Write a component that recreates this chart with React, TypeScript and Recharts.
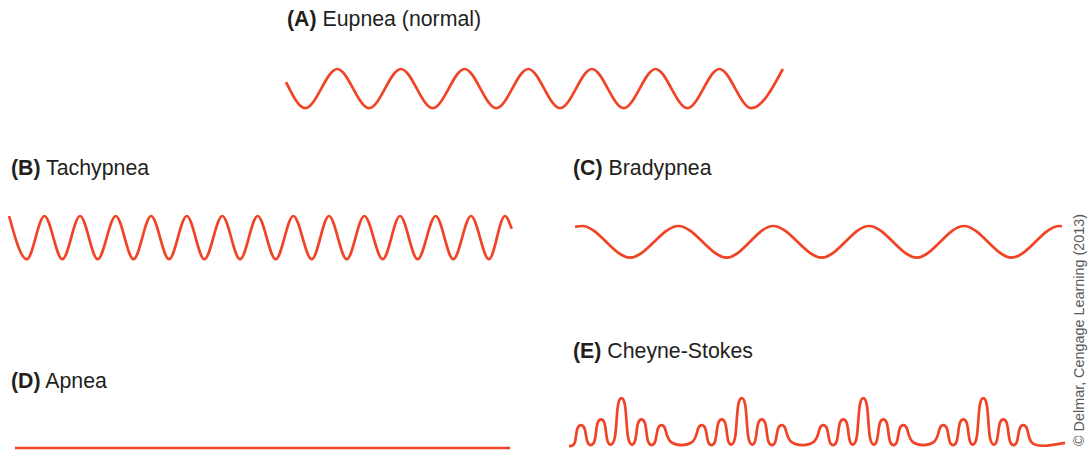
import React from "react";
import { LineChart, Line, XAxis, YAxis } from "recharts";

// ---- Data (time in seconds, lung volume in mL above resting level) ----
const eupneaTime = [0, 1.2, 3.2, 5.19, 7.18, 9.17, 11.16, 13.14, 15.14, 17.13, 19.12, 21.11, 23.1, 25.09, 27.09, 29.08, 31.06];
const eupneaVolume = [325, 0, 490, 0, 490, 0, 490, 0, 490, 0, 490, 0, 490, 0, 490, 0, 490];

const tachypneaTime = [0, 1.11, 2.21, 3.33, 4.44, 5.54, 6.67, 7.78, 8.88, 10.0, 11.11, 12.21, 13.33, 14.44, 15.54, 16.67, 17.77, 18.92, 20.0, 21.11, 22.21, 23.36, 24.44, 25.54, 26.67, 27.77, 28.88, 30.0, 31.0, 31.42];
const tachypneaVolume = [540, 0, 540, 0, 540, 0, 540, 0, 540, 0, 540, 0, 540, 0, 540, 0, 540, 0, 540, 0, 540, 0, 540, 0, 540, 0, 540, 0, 540, 380];

const bradypneaTime = [0, 0.44, 3.44, 6.46, 9.48, 12.39, 15.42, 18.38, 21.36, 24.31, 27.29, 30.28, 30.44];
const bradypneaVolume = [385, 395, 0, 395, 0, 395, 0, 395, 0, 395, 0, 395, 392];

const apneaTime = [0, 30.94];
const apneaVolume = [0, 0];

// Cheyne-Stokes: breath envelope (inspiration start / end times and breath volume)
const cheyneTime = [
  0,
  0.44, 0.44, 1.06, 1.06,
  1.69, 1.69, 2.31, 2.31,
  2.97, 2.97, 3.59, 3.59,
  4.22, 4.22, 4.84, 4.84,
  5.47, 5.47, 6.09, 6.09,
  7.98, 7.98, 8.61, 8.61,
  9.23, 9.23, 9.86, 9.86,
  10.48, 10.48, 11.11, 11.11,
  11.73, 11.73, 12.36, 12.36,
  12.98, 12.98, 13.61, 13.61,
  15.58, 15.58, 16.21, 16.21,
  16.83, 16.83, 17.46, 17.46,
  18.08, 18.08, 18.71, 18.71,
  19.33, 19.33, 19.96, 19.96,
  20.58, 20.58, 21.21, 21.21,
  23.08, 23.08, 23.71, 23.71,
  24.33, 24.33, 24.96, 24.96,
  25.58, 25.58, 26.21, 26.21,
  26.83, 26.83, 27.46, 27.46,
  28.08, 28.08, 28.71, 28.71,
  29.94, 31.0,
];
const cheyneVolume = [
  0,
  0, 273, 273, 0,
  0, 349, 349, 0,
  0, 626, 626, 0,
  0, 349, 349, 0,
  0, 273, 273, 0,
  0, 273, 273, 0,
  0, 349, 349, 0,
  0, 626, 626, 0,
  0, 349, 349, 0,
  0, 273, 273, 0,
  0, 273, 273, 0,
  0, 349, 349, 0,
  0, 626, 626, 0,
  0, 349, 349, 0,
  0, 273, 273, 0,
  0, 273, 273, 0,
  0, 349, 349, 0,
  0, 626, 626, 0,
  0, 349, 349, 0,
  0, 273, 273, 0,
  0, 40,
];

const panelTitles = ["Eupnea (normal)", "Tachypnea", "Bradypnea", "Apnea", "Cheyne-Stokes"];
const panelLetters = ["(A)", "(B)", "(C)", "(D)", "(E)"];
const credit = "\u00A9 Delmar, Cengage Learning (2013)";

// ---- Layout / style ----
const PX_PER_SEC = 16;
const PX_PER_ML = 0.08;
const M = 4;
const RED = "#EF4426";
const INK = "#231F20";

const zip = (ts: number[], vs: number[]) => ts.map((t, i) => ({ t, v: vs[i] }));

type PanelProps = {
  data: { t: number; v: number }[];
  t0: number;
  t1: number;
  v0: number;
  v1: number;
  left: number;
  bottom: number;
  curve?: "monotone" | "basis" | "linear";
};

function Panel({ data, t0, t1, v0, v1, left, bottom, curve = "monotone" }: PanelProps) {
  const w = (t1 - t0) * PX_PER_SEC;
  const h = (v1 - v0) * PX_PER_ML;
  return (
    <div style={{ position: "absolute", left: left - M, top: bottom - h - M }}>
      <LineChart width={w + 2 * M} height={h + 2 * M} data={data} margin={{ top: M, right: M, bottom: M, left: M }}>
        <XAxis dataKey="t" type="number" domain={[t0, t1]} hide />
        <YAxis type="number" domain={[v0, v1]} hide />
        <Line
          type={curve}
          dataKey="v"
          stroke={RED}
          strokeWidth={2.7}
          dot={false}
          activeDot={false}
          isAnimationActive={false}
          strokeLinejoin="round"
        />
      </LineChart>
    </div>
  );
}

const labelStyle: React.CSSProperties = {
  fontFamily: "'Liberation Sans', Arial, Helvetica, sans-serif",
  fontSize: 21.3,
  fill: INK,
};

export default function App() {
  const labelPos = [
    [287, 25.5],
    [11, 174.5],
    [573, 174.5],
    [11, 387.5],
    [573, 357.5],
  ];
  return (
    <div style={{ position: "absolute", left: 0, top: 0, width: 1090, height: 451, background: "#fff", overflow: "hidden" }}>
      <Panel data={zip(eupneaTime, eupneaVolume)} t0={0} t1={31.06} v0={0} v1={490} left={285.7} bottom={108.5} />
      <Panel data={zip(tachypneaTime, tachypneaVolume)} t0={0} t1={31.42} v0={0} v1={540} left={9} bottom={259} />
      <Panel data={zip(bradypneaTime, bradypneaVolume)} t0={0} t1={30.44} v0={0} v1={395} left={575} bottom={258} />
      <Panel data={zip(apneaTime, apneaVolume)} t0={0} t1={30.94} v0={0} v1={100} left={15} bottom={448} curve="linear" />
      <Panel data={zip(cheyneTime, cheyneVolume)} t0={0} t1={31.0} v0={0} v1={626} left={569} bottom={446} curve="basis" />
      <svg width={1090} height={451} style={{ position: "absolute", left: 0, top: 0, pointerEvents: "none" }}>
        {panelTitles.map((title, i) => (
          <text key={title} x={labelPos[i][0]} y={labelPos[i][1]} style={labelStyle}>
            <tspan fontWeight="bold">{panelLetters[i]}</tspan>
            <tspan>{" " + title}</tspan>
          </text>
        ))}
        <text
          transform="translate(1083.5,446) rotate(-90)"
          textLength={232}
          lengthAdjust="spacingAndGlyphs"
          style={{ fontFamily: "'Liberation Sans', Arial, sans-serif", fontSize: 14.5, fill: "#58595B" }}
        >
          {credit}
        </text>
      </svg>
    </div>
  );
}
